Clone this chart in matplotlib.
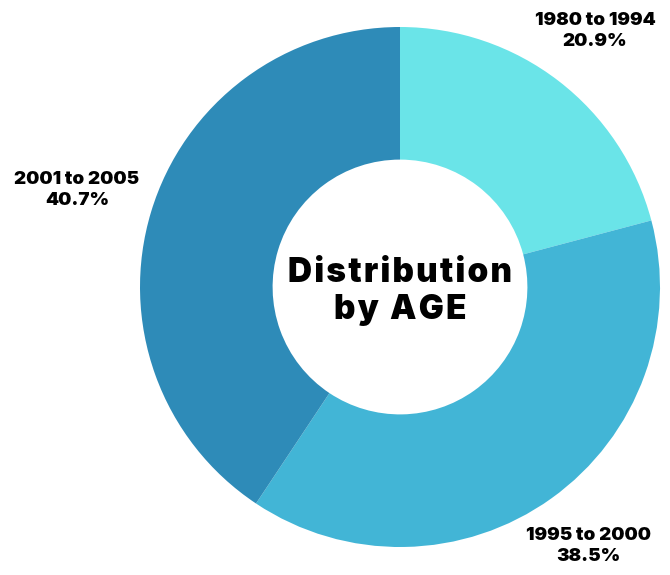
import matplotlib.pyplot as plt

# Age distribution data
labels = ['1980 to 1994', '1995 to 2000', '2001 to 2005']
shares = [20.9, 38.5, 40.7]
colors = ['#6AE4E8', '#42B5D6', '#2E8BB8']
label_pos = [(595, 31), (588, 546), (77, 190)]  # pixel centres of the outside labels

W, H = 670, 575
fig = plt.figure(figsize=(W / 100, H / 100), dpi=100)
fig.patch.set_facecolor('white')

# donut centred at (400, 287) px, radius 260 px
cx, cy, r = 400, 287, 260
ax = fig.add_axes([(cx - r) / W, (H - cy - r) / H, 2 * r / W, 2 * r / H])
ax.pie(shares, colors=colors, startangle=90, counterclock=False,
       radius=1, wedgeprops=dict(width=0.51, edgecolor='none'))
ax.set_xlim(-1, 1)
ax.set_ylim(-1, 1)
ax.set_aspect('equal')
ax.axis('off')

# slightly letter-spaced title in the hole
for line, yy in [('Distribution', 0.055), ('by AGE', -0.09)]:
    ax.text(0, yy, '\u200a'.join(line), ha='center', va='center',
            fontsize=24, fontweight=900, family=['Inter', 'DejaVu Sans'])

for lab, val, (px, py) in zip(labels, shares, label_pos):
    fig.text(px / W, 1 - py / H, f'{lab}\n{val}%', ha='center', va='center',
             fontsize=13.5, fontweight=900, family='Inter', linespacing=1.35)

fig.savefig('out.png', dpi=100)
